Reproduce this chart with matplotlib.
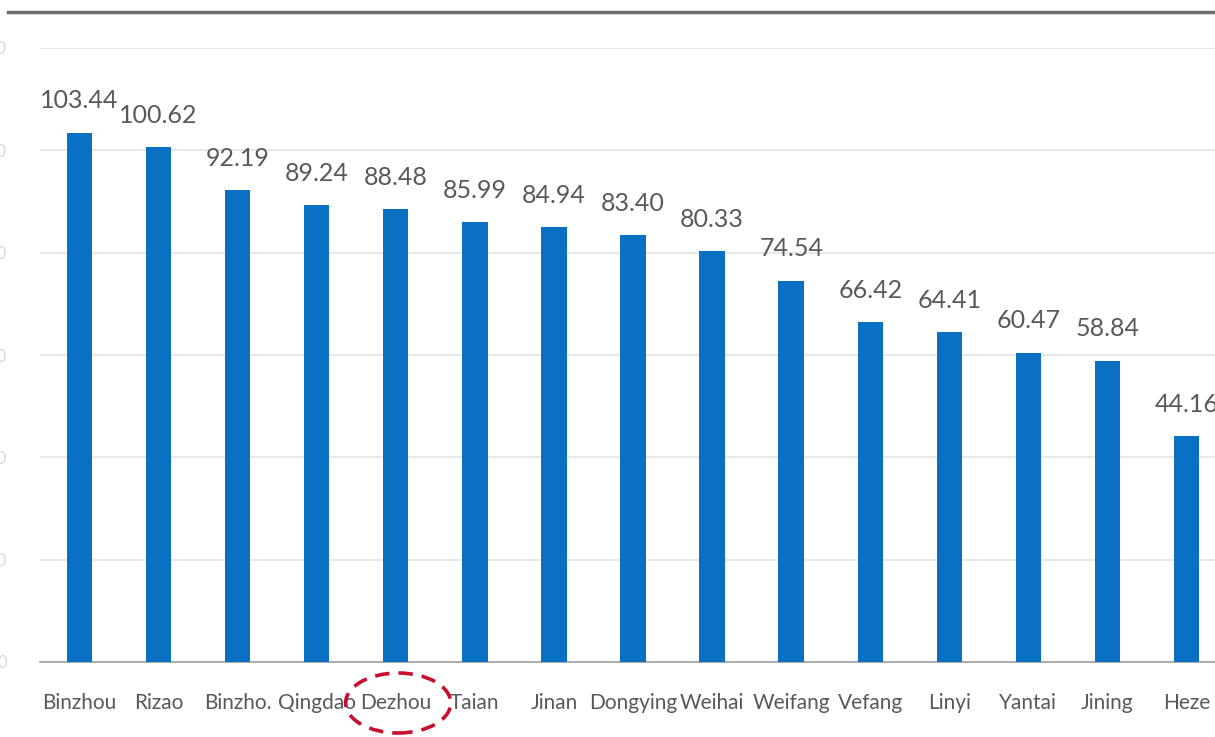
import matplotlib.pyplot as plt
from matplotlib.lines import Line2D
from matplotlib.patches import Ellipse

# city names and values
cities = ["Binzhou", "Rizao", "Binzho.", "Qingdao", "Dezhou", "Taian", "Jinan",
          "Dongying", "Weihai", "Weifang", "Vefang", "Linyi", "Yantai", "Jining", "Heze"]
values = [103.44, 100.62, 92.19, 89.24, 88.48, 85.99, 84.94,
          83.40, 80.33, 74.54, 66.42, 64.41, 60.47, 58.84, 44.16]
yticks = [0, 20, 40, 60, 80, 100, 120]

W, H = 1215, 737
fig = plt.figure(figsize=(W / 100, H / 100), dpi=100)
plt.rcParams['font.family'] = ['Lato', 'DejaVu Sans']

# axes spill over the right edge, like the cropped screenshot
ax = fig.add_axes([40 / W, 75 / H, 1186 / W, 614 / H])
x = list(range(len(cities)))
ax.bar(x, values, width=0.32, color="#0A70C4", zorder=3)

for xi, v in zip(x, values):
    ax.text(xi, v + 4.0, f"{v:.2f}", ha="center", va="bottom",
            fontsize=18, color="#595959")

ax.set_xlim(-0.5, len(cities) - 0.5)
ax.set_ylim(0, 120)
ax.set_xticks(x)
ax.set_xticklabels(cities, fontsize=15, color="#595959")
ax.set_yticks(yticks)
ax.set_yticklabels([str(t) for t in yticks], fontsize=12, color="#d8d8d8")
ax.tick_params(axis="x", length=0, pad=22)
ax.tick_params(axis="y", length=0, pad=24)

ax.grid(axis="y", color="#e4e4e4", linewidth=1.2, zorder=0)
for s in ["top", "right", "left"]:
    ax.spines[s].set_visible(False)
ax.spines["bottom"].set_color("#a6a6a6")
ax.spines["bottom"].set_linewidth(1.3)

# dark rule along the top of the screenshot
fig.add_artist(Line2D([8 / W, 1.0], [1 - 12 / H, 1 - 12 / H],
                      color="#6e6e6e", linewidth=2.5))

# dashed red ring around Dezhou
ring = Ellipse((4.03, -41 / 5.117), width=105 / 79, height=60 / 5.117,
               transform=ax.transData, fill=False, edgecolor="#C8102E",
               linestyle=(0, (4, 2.5)), linewidth=2.6, clip_on=False, zorder=5)
ax.add_patch(ring)

fig.savefig("out.png", dpi=100)
